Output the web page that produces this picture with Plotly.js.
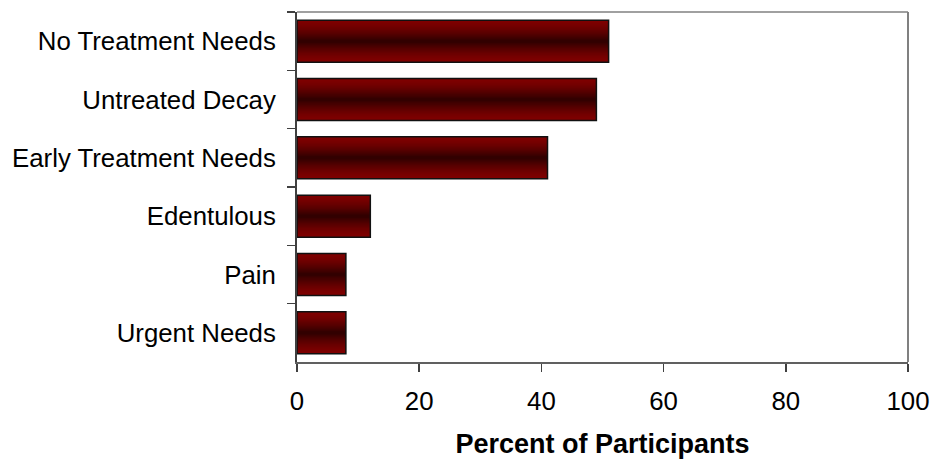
<!DOCTYPE html>
<html>
<head>
<meta charset="utf-8">
<script src="https://cdn.plot.ly/plotly-3.0.1.min.js"></script>
<style>
  html, body { margin: 0; padding: 0; background: #ffffff; }
  #chart { width: 933px; height: 459px; }
</style>
</head>
<body>
<div id="chart"></div>
<script>
// Dental examination outcomes
const categories = [
  "No Treatment Needs",
  "Untreated Decay",
  "Early Treatment Needs",
  "Edentulous",
  "Pain",
  "Urgent Needs"
];
const percentValues = [51, 49, 41, 12, 8, 8];
const xTickValues = [0, 20, 40, 60, 80, 100];

// Cylinder-style shading: stacked bars of shrinking thickness,
// bright red at the edges fading to near-black in the middle.
const BAR_WIDTH = 0.72;
const LAYERS = 40;
const edgeRGB = [128, 0, 0];
const coreRGB = [50, 0, 0];

function shade(t) {
  // t: 0 at the bar edge, 1 at the centre line
  const k = Math.pow(t, 1.5);
  const c = edgeRGB.map((e, i) => Math.round(e + (coreRGB[i] - e) * k));
  return `rgb(${c[0]},${c[1]},${c[2]})`;
}

const traces = [];
for (let i = 0; i < LAYERS; i++) {
  const t = i / (LAYERS - 1);
  traces.push({
    type: "bar",
    orientation: "h",
    x: percentValues,
    y: categories,
    width: BAR_WIDTH * (1 - t * 0.95),
    marker: { color: shade(t), line: { width: 0 } },
    hoverinfo: "skip",
    showlegend: false
  });
}
// Outline drawn on top
traces.push({
  type: "bar",
  orientation: "h",
  x: percentValues,
  y: categories,
  width: BAR_WIDTH,
  marker: { color: "rgba(0,0,0,0)", line: { color: "#111111", width: 1.5 } },
  hoverinfo: "skip",
  showlegend: false
});

const fontFamily = "Liberation Sans, Arial, sans-serif";

const layout = {
  width: 933,
  height: 459,
  margin: { l: 297, r: 25, t: 12, b: 97 },
  paper_bgcolor: "#ffffff",
  plot_bgcolor: "#ffffff",
  barmode: "overlay",
  showlegend: false,
  font: { family: fontFamily, color: "#000000", size: 26 },
  xaxis: {
    range: [0, 100],
    tickvals: xTickValues,
    ticktext: xTickValues.map(String),
    ticks: "outside",
    ticklen: 8,
    tickwidth: 1.5,
    tickcolor: "#404040",
    showline: true,
    linecolor: "#606060",
    linewidth: 2,
    showgrid: false,
    zeroline: false,
    ticklabelstandoff: 7,
    tickfont: { family: fontFamily, size: 25.8, color: "#000000" },
    automargin: false,
    title: {
      text: "Percent of Participants",
      font: { family: fontFamily, size: 27, color: "#000000", weight: "bold" },
      standoff: 22
    }
  },
  yaxis: {
    type: "category",
    autorange: "reversed",
    ticks: "outside",
    tickson: "boundaries",
    ticklen: 8,
    tickwidth: 1.5,
    tickcolor: "#404040",
    showline: true,
    linecolor: "#404040",
    linewidth: 2,
    showgrid: false,
    zeroline: false,
    ticklabelstandoff: 14,
    tickfont: { family: fontFamily, size: 25.8, color: "#000000" },
    automargin: false
  },
  shapes: [
    // top and right frame of the plotting area
    { type: "line", xref: "paper", yref: "paper", x0: 0, x1: 1, y0: 1, y1: 1,
      line: { color: "#a0a0a0", width: 2 } },
    { type: "line", xref: "paper", yref: "paper", x0: 1, x1: 1, y0: 0, y1: 1,
      line: { color: "#808080", width: 2 } }
  ]
};

Plotly.newPlot("chart", traces, layout, { displayModeBar: false, staticPlot: true });
</script>
</body>
</html>
